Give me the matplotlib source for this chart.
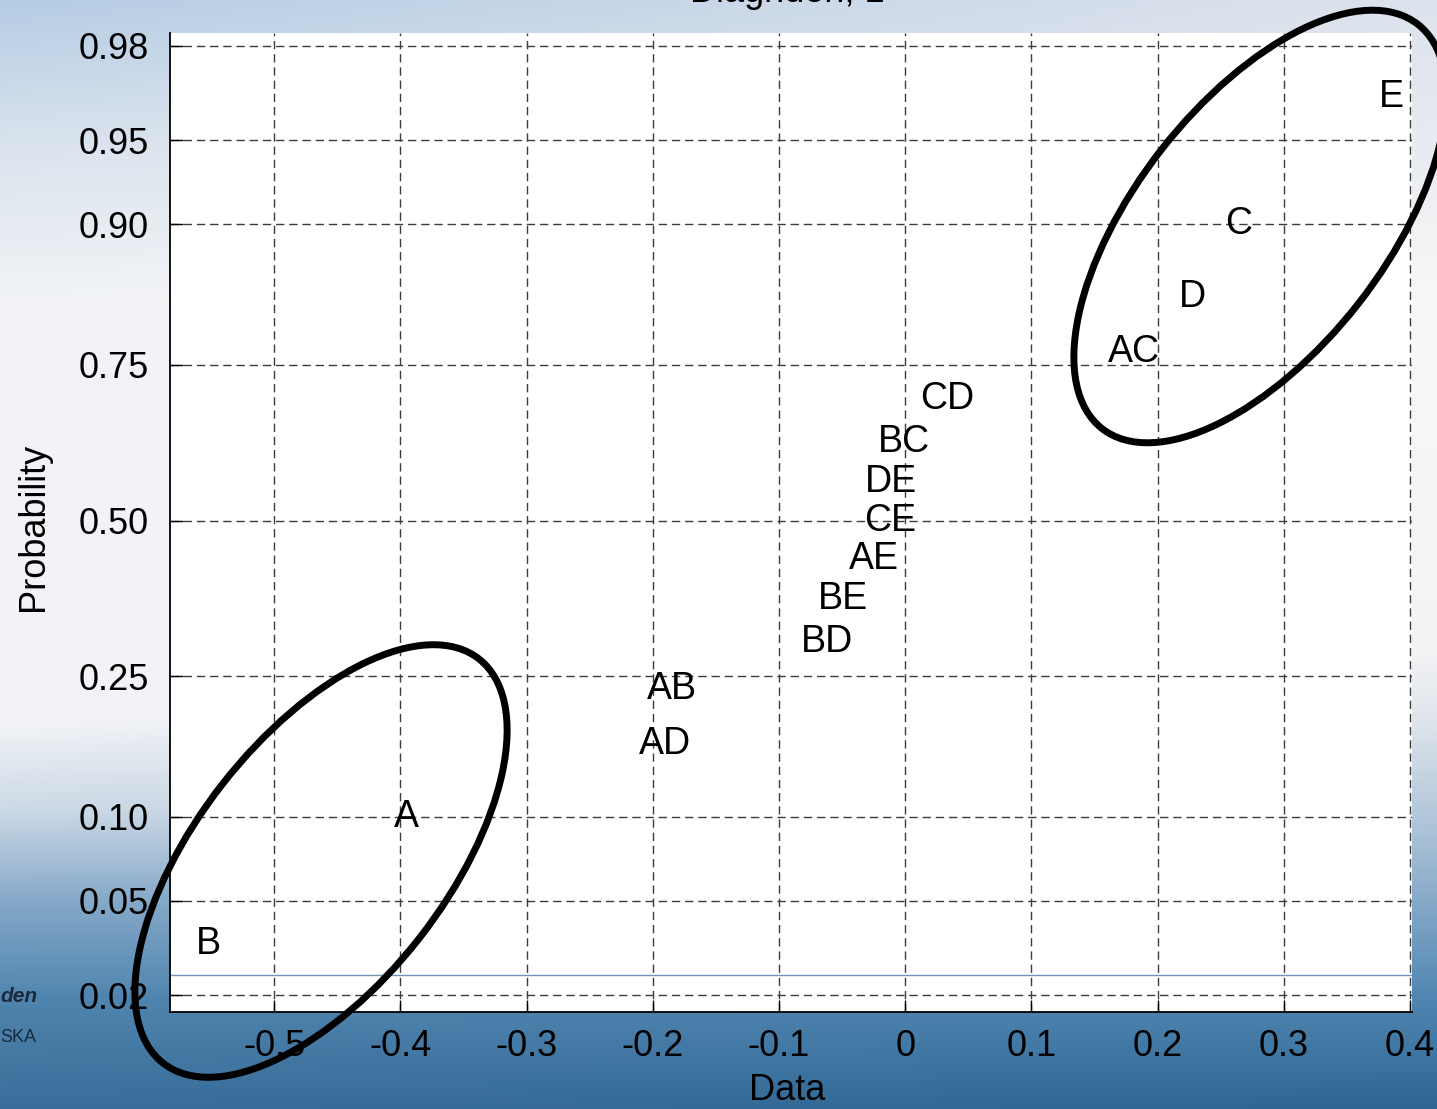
import numpy as np
import matplotlib
matplotlib.use("Agg")
import matplotlib.pyplot as plt
from matplotlib.patches import Ellipse
from matplotlib.transforms import IdentityTransform
from statistics import NormalDist

plt.rcParams['font.family'] = ['Liberation Sans', 'DejaVu Sans']

# effect estimates, sorted ascending
effects = ['B', 'A', 'AD', 'AB', 'BD', 'BE', 'AE', 'CE', 'DE', 'BC', 'CD', 'AC', 'D', 'C', 'E']
values = [-0.552, -0.395, -0.190, -0.185, -0.062, -0.049, -0.025, -0.012, -0.011,
          -0.001, 0.033, 0.181, 0.228, 0.264, 0.385]

prob_ticks = [0.02, 0.05, 0.10, 0.25, 0.50, 0.75, 0.90, 0.95, 0.98]
prob_labels = ['0.02', '0.05', '0.10', '0.25', '0.50', '0.75', '0.90', '0.95', '0.98']
x_ticks = [-0.5, -0.4, -0.3, -0.2, -0.1, 0, 0.1, 0.2, 0.3, 0.4]
x_labels = ['-0.5', '-0.4', '-0.3', '-0.2', '-0.1', '0', '0.1', '0.2', '0.3', '0.4']

nd = NormalDist()
n = len(values)
probs = [(i + 0.5) / n for i in range(n)]
z = [nd.inv_cdf(p) for p in probs]

W, H = 1437, 1109
fig = plt.figure(figsize=(W / 100, H / 100), dpi=100)

# slide background gradient
def ramp(stops):
    ys = [s[0] for s in stops]
    cols = np.array([matplotlib.colors.to_rgb(s[1]) for s in stops])
    yy = np.arange(H)
    return np.stack([np.interp(yy, ys, cols[:, k]) for k in range(3)], axis=1)

left_col = ramp([(0, '#b5cce4'), (150, '#dbe4ee'), (300, '#f1f3f6'), (720, '#f3f4f7'),
                 (810, '#ccd9e6'), (900, '#86a9c9'), (1000, '#4f84ae'), (1109, '#3a6e9a')])
right_col = ramp([(0, '#dde3ec'), (150, '#e8ecf2'), (300, '#faf8f6'), (650, '#f3f3f5'),
                  (720, '#dfe5ec'), (850, '#a2bcd4'), (1000, '#4f85b1'), (1109, '#2d6592')])
t = np.linspace(0, 1, W)[None, :, None]
bg = left_col[:, None, :] * (1 - t) + right_col[:, None, :] * t
bax = fig.add_axes([0, 0, 1, 1], zorder=-1)
bax.imshow(bg, aspect='auto', extent=(0, 1, 0, 1))
bax.axis('off')

ax = fig.add_axes([170 / W, 1 - 1012 / H, (1412 - 170) / W, (1012 - 33) / H])
ax.set_facecolor('white')

for lab, v, zz in zip(effects, values, z):
    ax.text(v, zz, lab, ha='center', va='center', fontsize=27, color='black')

ax.set_xlim(-0.5825, 0.4016)
ax.set_ylim(-2.127, 2.110)
ax.set_xticks(x_ticks)
ax.set_xticklabels(x_labels)
ax.set_yticks([nd.inv_cdf(p) for p in prob_ticks])
ax.set_yticklabels(prob_labels)
ax.tick_params(direction='in', length=9, width=1, labelsize=26, color='black')
ax.tick_params(axis='x', pad=12)
ax.tick_params(axis='y', pad=15)
ax.grid(True, color='#3c3c3c', linestyle=(0, (6, 3.5)), linewidth=1)
for s in ['top', 'right']:
    ax.spines[s].set_visible(False)
for s in ['left', 'bottom']:
    ax.spines[s].set_linewidth(1.3)
ax.axhline(nd.inv_cdf(0.0247), color='#7393b6', linewidth=1)

fig.text(787 / W, 1 - 1091 / H, 'Data', ha='center', va='center', fontsize=26)
fig.text(33 / W, 1 - 527 / H, 'Probability', ha='center', va='center', rotation=90, fontsize=26)
fig.text(787 / W, 1 - 2 / H, 'Diagnden, 1', ha='center', va='baseline', fontsize=26)

# slide fragments at lower left
fig.text(0, 1 - 996 / H, 'den', ha='left', va='center', fontsize=15, style='italic',
         weight='bold', color='#1a2a3a')
fig.text(0, 1 - 1038 / H, 'SKA', ha='left', va='center', fontsize=13, color='#1a2a3a')

# hand-drawn circles around significant effects
for cx, cy in [(321, 861), (1260, 226.5)]:
    fig.add_artist(Ellipse((cx, H - cy), 513, 250, angle=52, fill=False,
                           edgecolor='black', linewidth=5, transform=IdentityTransform(),
                           zorder=5))

fig.savefig('out.png', dpi=100)
